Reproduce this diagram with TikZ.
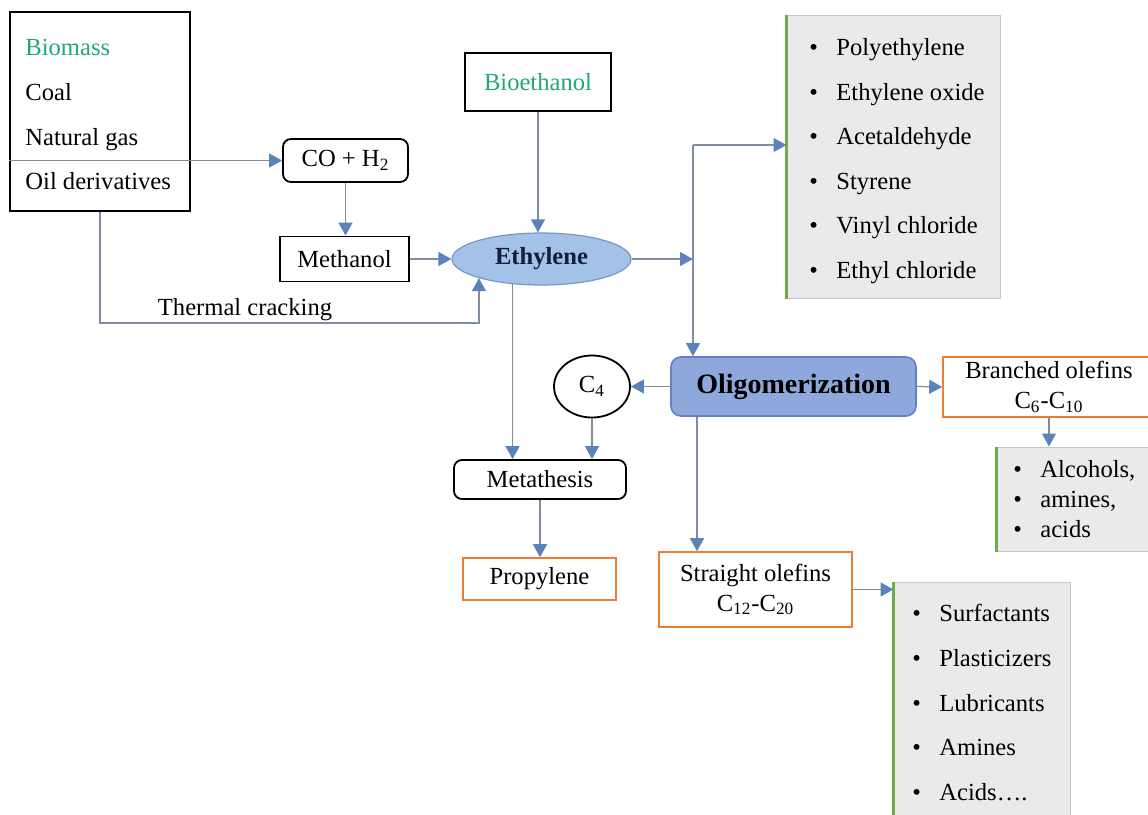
\documentclass[tikz,border=0pt]{standalone}
\usepackage{fontspec}
\setmainfont{Liberation Serif}
\usetikzlibrary{shapes,arrows.meta}

\definecolor{lnc}{RGB}{128,140,162}
\definecolor{tipc}{RGB}{92,130,186}
\definecolor{grn}{RGB}{32,170,110}
\definecolor{ethc}{RGB}{162,194,232}
\definecolor{ethb}{RGB}{120,150,195}
\definecolor{olic}{RGB}{142,168,220}
\definecolor{olib}{RGB}{100,128,196}
\definecolor{orng}{RGB}{237,125,49}
\definecolor{lstc}{RGB}{234,234,234}
\definecolor{lstg}{RGB}{112,173,71}
\definecolor{navy}{RGB}{20,30,60}

\newcommand{\basefont}{\fontsize{12.3}{15}\selectfont}
\newcommand{\bul}[1]{\makebox[13.5pt][l]{\textbullet}#1}

\tikzset{
	arr/.style={draw=lnc, line width=0.6pt, -{Triangle[length=6.5pt,width=7pt,color=tipc]}},
	blk/.style={draw=black, line width=0.9pt, fill=white, inner sep=0pt},
	rnd/.style={blk, rounded corners=4pt},
	org/.style={draw=orng, line width=0.8pt, fill=white, inner sep=0pt, align=center},
	lst/.style={draw=black!22, line width=0.5pt, fill=lstc, inner sep=0pt},
	itm/.style={anchor=west, inner sep=0pt, text height=8.5pt, text depth=2.5pt}
}

\begin{document}
\begin{tikzpicture}[x=0.5pt, y=-0.5pt, font=\basefont]
	\useasboundingbox (0,0) rectangle (1148,815);

	% feedstocks
	\node[blk, line width=1.2pt, minimum width=90pt, minimum height=99.5pt] (src) at (100,111.5) {};
	\node[itm, text=grn] (bms) at (25,49) {Biomass};
	\node[itm] (coal) at (25,94) {Coal};
	\node[itm] (ng) at (25,139) {Natural gas};
	\node[itm] (oil) at (25,183) {Oil derivatives};

	\node[rnd, minimum width=62.5pt, minimum height=21.5pt] (co) at (345.5,160.5) {CO + H\textsubscript{2}};
	\node[blk, minimum width=64.5pt, minimum height=22.5pt] (meoh) at (344.5,259) {Methanol};
	\node[blk, minimum width=73pt, minimum height=29pt, text=grn] (bio) at (538,82) {Bioethanol};
	\node[ellipse, draw=ethb, fill=ethc, line width=0.6pt, minimum width=89.5pt, minimum height=26pt,
		inner sep=0pt, text=navy, font=\basefont\bfseries] (eth) at (541.5,259) {Ethylene};
	\node (tc) at (245,310) {Thermal cracking};

	% ethylene derivatives
	\node[lst, minimum width=106.5pt, minimum height=141.5pt] (lone) at (893.5,156.5) {};
	\draw[lstg, line width=1.5pt] (lone.north west) -- (lone.south west);
	\node[itm] (pe) at (809,49) {\bul{Polyethylene}};
	\node[itm] (eo) at (809,94) {\bul{Ethylene oxide}};
	\node[itm] (acd) at (809,138) {\bul{Acetaldehyde}};
	\node[itm] (sty) at (809,183) {\bul{Styrene}};
	\node[itm] (vc) at (809,227) {\bul{Vinyl chloride}};
	\node[itm] (ec) at (809,272) {\bul{Ethyl chloride}};

	% oligomerization
	\node[draw=olib, fill=olic, rounded corners=5pt, line width=0.8pt, minimum width=122.5pt,
		minimum height=29.5pt, font=\fontsize{14}{16}\selectfont\bfseries] (olig) at (793.5,386.5) {Oligomerization};
	\node[ellipse, draw, line width=0.9pt, fill=white, minimum width=38pt, minimum height=31pt,
		inner sep=0pt] (cfour) at (592,386.5) {C\textsubscript{4}};
	\node[rnd, minimum width=86pt, minimum height=19.5pt] (meta) at (540,479.5) {Metathesis};
	\node[org, minimum width=76.5pt, minimum height=21pt] (prop) at (539.5,579) {Propylene};
	\node[org, minimum width=96.5pt, minimum height=37.5pt] (so) at (755.5,589.5) {Straight olefins\\C\textsubscript{12}-C\textsubscript{20}};
	\node[org, minimum width=106pt, minimum height=30pt] (bo) at (1049,387) {Branched olefins\\C\textsubscript{6}-C\textsubscript{10}};

	\node[lst, minimum width=76pt, minimum height=52pt] (ltwo) at (1073,499) {};
	\draw[lstg, line width=1.5pt] (ltwo.north west) -- (ltwo.south west);
	\node[itm] (alc) at (1013,471) {\bul{Alcohols,}};
	\node[itm] (amn) at (1013,501) {\bul{amines,}};
	\node[itm] (acs) at (1013,531) {\bul{acids}};

	\node[lst, minimum width=88pt, minimum height=124pt] (lthree) at (982,706) {};
	\draw[lstg, line width=1.5pt] (lthree.north west) -- (lthree.south west);
	\node[itm] (sfc) at (912,615) {\bul{Surfactants}};
	\node[itm] (pls) at (912,660) {\bul{Plasticizers}};
	\node[itm] (lub) at (912,705) {\bul{Lubricants}};
	\node[itm] (ams) at (912,749) {\bul{Amines}};
	\node[itm] (acd2) at (912,794) {\bul{Acids\dots.}};

	% connectors
	\coordinate (split) at (693,145);
	\coordinate (join) at (693,259);
	\draw[arr] (src.west |- co.west) -- (co.west);
	\draw[arr] (co.south) -- (co.south |- meoh.north);
	\draw[arr] (meoh.east) -- (eth.west);
	\draw[arr] (bio.south) -- (bio.south |- eth.north);
	\draw[arr] (src.south) -- (src.south |- 0,323) -| (eth.197);
	\draw[arr] (eth.east) -- (join);
	\draw[arr] (split) -- (split |- olig.north);
	\draw[arr] (split) -- (split -| lone.west);
	\draw[arr] (olig.west) -- (cfour.east);
	\draw[arr] (eth.221) -- (eth.221 |- meta.north);
	\draw[arr] (cfour.south) -- (cfour.south |- meta.north);
	\draw[arr] (meta.south) -- (meta.south |- prop.north);
	\draw[arr] (olig.south -| 697,0) -- (so.north -| 697,0);
	\draw[arr] (so.east) -- (so.east -| lthree.west);
	\draw[arr] (olig.east) -- (bo.west);
	\draw[arr] (bo.south) -- (bo.south |- ltwo.north);

\end{tikzpicture}
\end{document}
